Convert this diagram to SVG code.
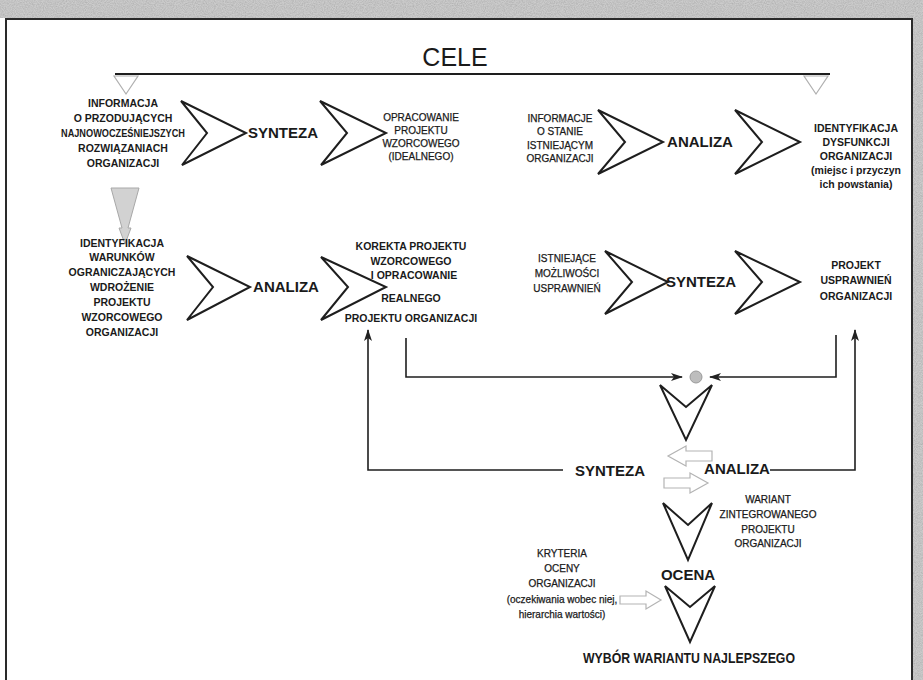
<svg xmlns="http://www.w3.org/2000/svg" width="923" height="680" viewBox="0 0 923 680">
  <defs>
    <filter id="grain" x="0" y="0" width="1" height="1" color-interpolation-filters="sRGB">
      <feTurbulence type="fractalNoise" baseFrequency="0.9" numOctaves="3" seed="7" result="noise"/>
      <feColorMatrix in="noise" type="matrix" values="0 0 0 0 0.55  0 0 0 0 0.55  0 0 0 0 0.55  0.7 0 0 0 -0.22" result="specks"/>
      <feComposite in="specks" in2="SourceGraphic" operator="over"/>
    </filter>
    <marker id="arr" viewBox="0 0 12 8" markerWidth="12" markerHeight="8" refX="11" refY="4" orient="auto" markerUnits="userSpaceOnUse">
      <path d="M0,0 L12,4 L0,8 L3,4 Z" fill="#222"/>
    </marker>
    <style>
      .lb { font-family: "Liberation Sans", Arial, sans-serif; font-weight: bold; font-size: 10.5px; fill: #1a1a1a; text-anchor: middle; }
      .lr { font-family: "Liberation Sans", Arial, sans-serif; font-size: 10px; fill: #1a1a1a; stroke: #1a1a1a; stroke-width: 0.25; text-anchor: middle; }
      .big { font-family: "Liberation Sans", Arial, sans-serif; font-weight: bold; font-size: 15px; fill: #1a1a1a; text-anchor: middle; }
      .chev { fill: #fff; stroke: #1e1e1e; stroke-width: 2; stroke-linejoin: miter; }
      .hollow { fill: #fff; stroke: #b4b4b4; stroke-width: 1.2; }
      .tri { fill: #fff; stroke: #b0b0b0; stroke-width: 1.2; }
      .conn { fill: none; stroke: #1e1e1e; stroke-width: 1.6; }
    </style>
  </defs>

  <!-- page background and scanned frame -->
  <rect x="0" y="0" width="923" height="680" fill="#fff"/>
  <rect x="0" y="0" width="923" height="18" fill="#cbcbcb" filter="url(#grain)"/>
  <rect x="913" y="0" width="10" height="680" fill="#cbcbcb" filter="url(#grain)"/>
  <path d="M6,680 V19 H912 V680" fill="none" stroke="#2a2a2a" stroke-width="2"/>

  <!-- goals bar -->
  <g id="cele">
    <text x="455" y="66" font-family="Liberation Sans, Arial, sans-serif" font-size="25" fill="#1a1a1a" text-anchor="middle">CELE</text>
    <line x1="115" y1="74" x2="830" y2="74" stroke="#1e1e1e" stroke-width="2.2"/>
    <path class="tri" d="M114,76 L138,76 L126,94 Z"/>
    <path class="tri" d="M804,76 L828,76 L816,94 Z"/>
  </g>

  <!-- row 1, left -->
  <g id="info-nowoczesne">
    <text class="lb" x="123" y="107">INFORMACJA</text>
    <text class="lb" x="123" y="122">O PRZODUJĄCYCH</text>
    <text class="lb" x="123" y="137" textLength="124" lengthAdjust="spacingAndGlyphs">NAJNOWOCZEŚNIEJSZYCH</text>
    <text class="lb" x="123" y="152">ROZWIĄZANIACH</text>
    <text class="lb" x="123" y="167">ORGANIZACJI</text>
  </g>
  <g id="synteza-1">
    <path class="chev" d="M181,101 L246,133 L182,165 L207,133 Z"/>
    <text class="big" x="283" y="138">SYNTEZA</text>
    <path class="chev" d="M320,101 L386,133 L321,165 L347,133 Z"/>
  </g>
  <g id="projekt-wzorcowy">
    <text class="lr" x="421" y="121">OPRACOWANIE</text>
    <text class="lr" x="421" y="134">PROJEKTU</text>
    <text class="lr" x="421" y="147">WZORCOWEGO</text>
    <text class="lr" x="421" y="160">(IDEALNEGO)</text>
  </g>

  <!-- row 1, right -->
  <g id="info-stan">
    <text class="lr" x="560" y="122">INFORMACJE</text>
    <text class="lr" x="560" y="135">O STANIE</text>
    <text class="lr" x="560" y="149">ISTNIEJĄCYM</text>
    <text class="lr" x="560" y="162">ORGANIZACJI</text>
  </g>
  <g id="analiza-1">
    <path class="chev" d="M598,110 L663,142 L598,174 L625,142 Z"/>
    <text class="big" x="700" y="147">ANALIZA</text>
    <path class="chev" d="M735,110 L800,142 L735,174 L762,142 Z"/>
  </g>
  <g id="dysfunkcje">
    <text class="lb" x="856" y="132">IDENTYFIKACJA</text>
    <text class="lb" x="856" y="146">DYSFUNKCJI</text>
    <text class="lb" x="856" y="160">ORGANIZACJI</text>
    <text class="lb" x="856" y="174">(miejsc i przyczyn</text>
    <text class="lb" x="856" y="188">ich powstania)</text>
  </g>

  <!-- shaded arrow down -->
  <g id="strzalka-w-dol">
    <path d="M111,188 L139,188 L128,228 L131,228 L125,244 L119,228 L122,228 Z" fill="#d2d2d2" stroke="#a8a8a8" stroke-width="1"/>
  </g>

  <!-- row 2, left -->
  <g id="warunki">
    <text class="lb" x="122" y="247">IDENTYFIKACJA</text>
    <text class="lb" x="122" y="261">WARUNKÓW</text>
    <text class="lb" x="122" y="276">OGRANICZAJĄCYCH</text>
    <text class="lb" x="122" y="291">WDROŻENIE</text>
    <text class="lb" x="122" y="306">PROJEKTU</text>
    <text class="lb" x="122" y="321">WZORCOWEGO</text>
    <text class="lb" x="122" y="336">ORGANIZACJI</text>
  </g>
  <g id="analiza-2">
    <path class="chev" d="M187,256 L250,287 L187,320 L213,287 Z"/>
    <text class="big" x="286" y="292">ANALIZA</text>
    <path class="chev" d="M321,257 L386,287 L321,320 L348,287 Z"/>
  </g>
  <g id="korekta">
    <text class="lb" x="411" y="250">KOREKTA PROJEKTU</text>
    <text class="lb" x="411" y="265">WZORCOWEGO</text>
    <text class="lb" x="414" y="279">I OPRACOWANIE</text>
    <text class="lb" x="411" y="302">REALNEGO</text>
    <text class="lb" x="411" y="322">PROJEKTU ORGANIZACJI</text>
  </g>

  <!-- row 2, right -->
  <g id="mozliwosci">
    <text class="lr" x="567" y="262">ISTNIEJĄCE</text>
    <text class="lr" x="567" y="277">MOŻLIWOŚCI</text>
    <text class="lr" x="567" y="292">USPRAWNIEŃ</text>
  </g>
  <g id="synteza-2">
    <path class="chev" d="M605,251 L668,282 L605,314 L632,282 Z"/>
    <text class="big" x="701" y="287">SYNTEZA</text>
    <path class="chev" d="M735,251 L800,282 L735,314 L762,282 Z"/>
  </g>
  <g id="projekt-usprawnien">
    <text class="lb" x="856" y="269">PROJEKT</text>
    <text class="lb" x="856" y="284">USPRAWNIEŃ</text>
    <text class="lb" x="856" y="300">ORGANIZACJI</text>
  </g>

  <!-- integration -->
  <g id="wezel">
    <circle cx="696" cy="377" r="6" fill="#bdbdbd" stroke="#9a9a9a" stroke-width="1"/>
    <path class="chev" d="M660,385 L686,407 L712,385 L686,440 Z"/>
  </g>
  <g id="synteza-analiza">
    <path class="hollow" d="M712,451 L686,451 L686,446 L668,456 L686,466 L686,461 L712,461 Z"/>
    <path class="hollow" d="M664,478 L690,478 L690,473 L708,483 L690,493 L690,488 L664,488 Z"/>
    <text class="big" x="610" y="476">SYNTEZA</text>
    <text class="big" x="737" y="474">ANALIZA</text>
  </g>
  <g id="wariant">
    <text class="lr" x="768" y="503">WARIANT</text>
    <text class="lr" x="768" y="518">ZINTEGROWANEGO</text>
    <text class="lr" x="768" y="533">PROJEKTU</text>
    <text class="lr" x="768" y="547">ORGANIZACJI</text>
  </g>
  <g id="ocena">
    <path class="chev" d="M663,503 L688,525 L712,503 L688,560 Z"/>
    <text class="big" x="688" y="580" font-size="14">OCENA</text>
    <path class="chev" d="M665,586 L690,607 L715,586 L690,642 Z"/>
  </g>
  <g id="kryteria">
    <text class="lr" x="562" y="557">KRYTERIA</text>
    <text class="lr" x="562" y="572">OCENY</text>
    <text class="lr" x="562" y="587">ORGANIZACJI</text>
    <text class="lr" x="562" y="603">(oczekiwania wobec niej,</text>
    <text class="lr" x="562" y="618">hierarchia wartości)</text>
    <path class="hollow" d="M620,596 L646,596 L646,591 L661,600 L646,609 L646,604 L620,604 Z"/>
  </g>
  <g id="wybor">
    <text class="big" x="689" y="663" font-size="14" textLength="212" lengthAdjust="spacingAndGlyphs">WYBÓR WARIANTU NAJLEPSZEGO</text>
  </g>

  <!-- connectors -->
  <g id="connectors">
    <path class="conn" d="M406,338 V377 H682" marker-end="url(#arr)"/>
    <path class="conn" d="M836,335 V377 H710" marker-end="url(#arr)"/>
    <path class="conn" d="M563,470 H368 V330" marker-end="url(#arr)"/>
    <path class="conn" d="M770,470 H855 V330" marker-end="url(#arr)"/>
  </g>
</svg>
